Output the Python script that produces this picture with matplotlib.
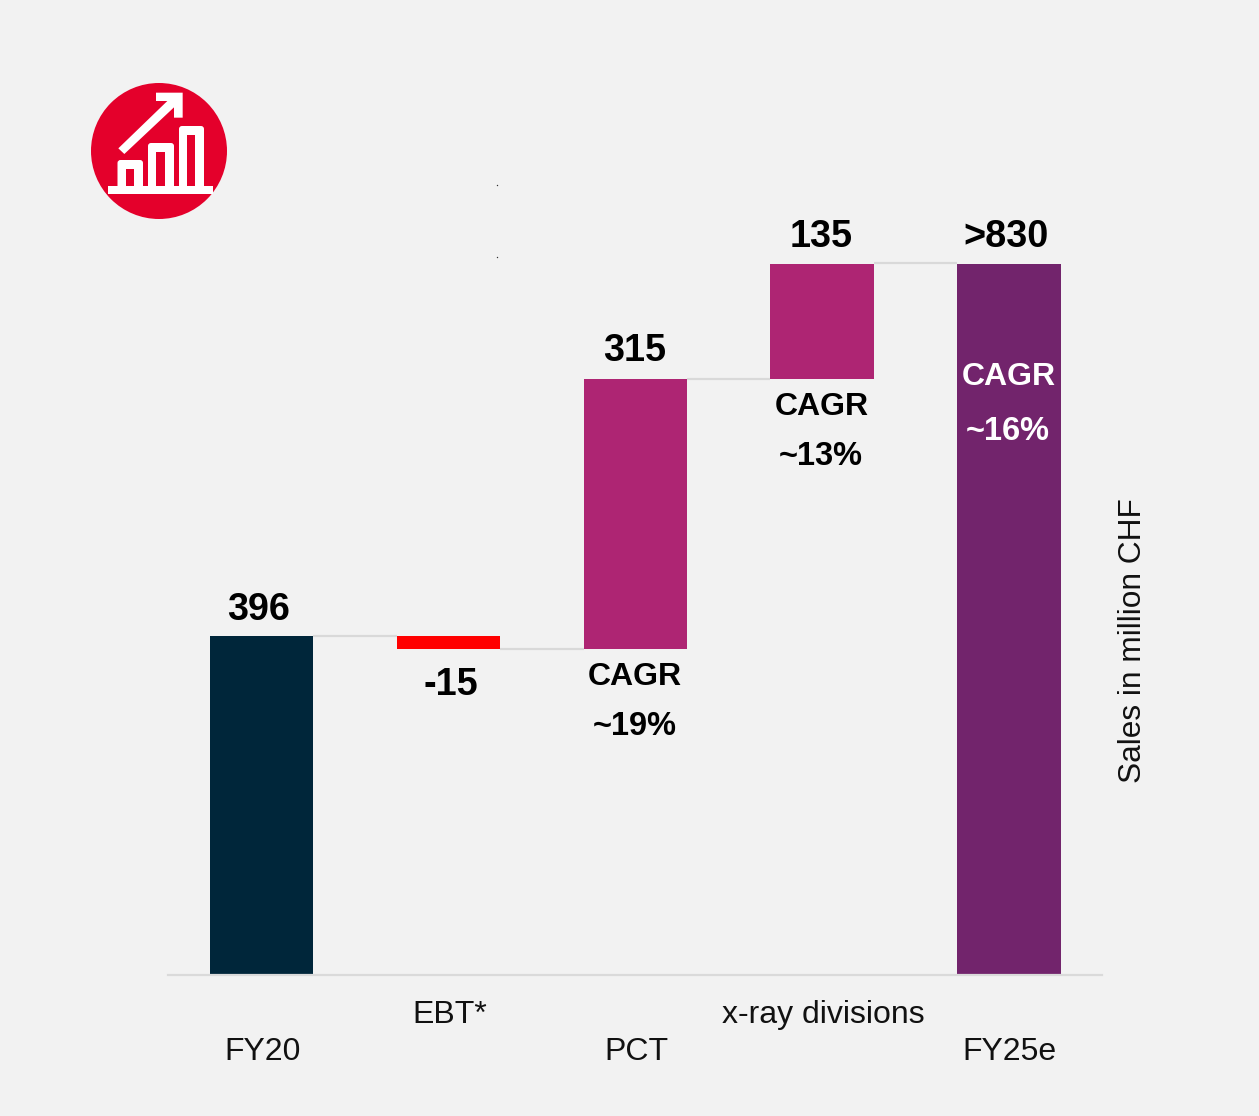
import matplotlib
matplotlib.use("Agg")
import matplotlib.pyplot as plt
from matplotlib.patches import Circle, Polygon, FancyBboxPatch, Rectangle
from matplotlib.transforms import ScaledTranslation

plt.rcParams['font.family'] = ['Liberation Sans', 'DejaVu Sans']

categories = ['FY20', 'EBT*', 'PCT', 'x-ray divisions', 'FY25e']
values = [396, -15, 315, 135, 831]
is_total = [True, False, False, False, True]
value_labels = ['396', '-15', '315', '135', '>830']
colors = ['#00263A', '#FF0000', '#AE2573', '#AE2573', '#72246C']
cagr_labels = [None, None, '~19%', '~13%', '~16%']
axis_label = 'Sales in million CHF'

W, H = 1259, 1116
BG = '#F2F2F2'
fig = plt.figure(figsize=(W / 100, H / 100), dpi=100, facecolor=BG)

PX_PER_UNIT = 339 / 396
left, right, base, top = 168.3, 1102.3, 975.3, 20
ax = fig.add_axes([left / W, 1 - base / H, (right - left) / W, (base - top) / H])
ax.set_facecolor('none')
ax.set_xlim(-0.5, 4.5)
ax.set_ylim(0, (base - top) / PX_PER_UNIT)

# waterfall geometry from the values
bottoms, tops = [], []
running = 0
for v, t in zip(values, is_total):
    if t:
        b, e = 0, v
        running = v
    else:
        b, e = running, running + v
        running = e
    bottoms.append(min(b, e))
    tops.append(max(b, e))

xs = list(range(len(values)))
bw = 0.554
ax.bar(xs, [t - b for t, b in zip(tops, bottoms)], bottom=bottoms, width=bw,
       color=colors, linewidth=0)

# connectors
levels = [tops[0], bottoms[1], tops[2], tops[3]]
for i, lv in enumerate(levels):
    ax.plot([i + bw / 2, i + 1 - bw / 2], [lv + 0.6, lv + 0.6], color='#D9D9D9', lw=1.6,
            solid_capstyle='butt', zorder=1)

for s in ('top', 'left', 'right'):
    ax.spines[s].set_visible(False)
ax.spines['bottom'].set_color('#DADADA')
ax.spines['bottom'].set_linewidth(1.6)
ax.set_yticks([])
ax.set_xticks(xs)
ax.set_xticklabels(categories, fontsize=23, color='#111111')
ax.tick_params(axis='x', length=0)
for i, lab in enumerate(ax.get_xticklabels()):
    ax.xaxis.get_major_ticks()[i].set_pad(18 if i % 2 else 44.5)
    lab.set_verticalalignment('top')
    lab.set_transform(lab.get_transform() + ScaledTranslation(1 / 100, 0, fig.dpi_scale_trans))

PT = 0.72
# value labels
for i, (lab, t, b, v) in enumerate(zip(value_labels, tops, bottoms, values)):
    if v < 0:
        ax.annotate(lab, (i, b), xytext=(2 * PT, -36 * PT), textcoords='offset points',
                    ha='center', va='center', fontsize=27.2, fontweight='bold', color='black')
    else:
        dx = [-3, 0, -1, -1, -3][i]
        dy = [26.5, 0, 28.5, 27, 27][i]
        ax.annotate(lab, (i, t), xytext=(dx * PT, dy * PT), textcoords='offset points',
                    ha='center', va='center', fontsize=27.2, fontweight='bold', color='black')

# CAGR labels
for i, lab in enumerate(cagr_labels):
    if lab is None:
        continue
    if is_total[i]:
        c, d1, d2 = 'white', -113, -167.5
    else:
        c, d1, d2 = 'black', -28, -77
    ax.annotate('CAGR', (i, bottoms[i]) if not is_total[i] else (i, tops[i]),
                xytext=(0, d1 * PT), textcoords='offset points', ha='center', va='center',
                fontsize=23, fontweight='bold', color=c)
    ax.annotate(lab, (i, bottoms[i]) if not is_total[i] else (i, tops[i]),
                xytext=(-1 * PT, d2 * PT), textcoords='offset points', ha='center', va='center',
                fontsize=23.5, fontweight='bold', color=c)

# overlay in pixel coordinates for decoration
ov = fig.add_axes([0, 0, 1, 1])
ov.set_xlim(0, W)
ov.set_ylim(H, 0)
ov.axis('off')
ov.patch.set_alpha(0)

ov.text(1133, 640.5, axis_label, rotation=90, ha='center', va='center', fontsize=22.8, color='#111111')

# icon
RED = '#E4002B'
ov.add_patch(Circle((159, 151), 68, color=RED, lw=0))
ov.add_patch(Rectangle((108, 186), 105, 8.3, color='white', lw=0))
for x0, x1, ytop in [(117.5, 143, 160), (148, 174, 143), (179, 204, 126)]:
    ov.add_patch(FancyBboxPatch((x0 + 3, ytop + 3), x1 - x0 - 6, 190 - ytop - 3,
                                boxstyle='round,pad=3,rounding_size=3', color='white', lw=0))
    ov.add_patch(Rectangle((x0 + 8.5, ytop + 8.5), x1 - x0 - 17, 186 - ytop - 8.5, color=RED, lw=0))
z = lambda p: (80 + p[0] / 3, 70 + p[1] / 3)
ov.add_patch(Polygon([z(p) for p in [(228, 68), (308, 68), (308, 143), (282, 143), (282, 112),
                                     (133, 252), (115, 235), (262, 93), (228, 93)]],
                     closed=True, color='white', lw=0))

# tiny specks present in the source
ov.plot([497, 497], [185, 257], ls='none', marker='o', ms=1, mew=0, color='#333333')

fig.savefig('out.png', dpi=100, facecolor=BG)
